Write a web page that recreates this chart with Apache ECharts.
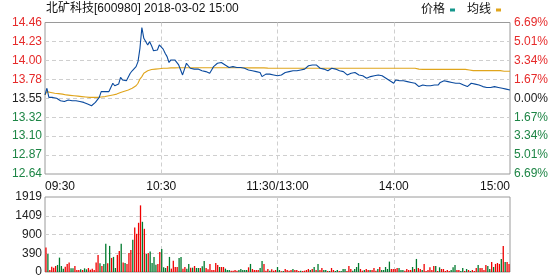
<!DOCTYPE html>
<html><head><meta charset="utf-8">
<script src="https://cdn.jsdelivr.net/npm/echarts@6/dist/echarts.min.js"></script>
<style>html,body{margin:0;padding:0;background:#fff}#c{width:560px;height:280px}</style>
</head><body><div id="c"></div>
<script>
const chartTitle = '北矿科技[600980] 2018-03-02 15:00';
const seriesNames = ['价格', '均线'];
// left price tick labels, bottom -> top
const priceTicks = ['12.64','12.87','13.10','13.32','13.55','13.78','14.00','14.23','14.46'];
// right percent tick labels, bottom -> top
const pctTicks = ['6.69%','5.01%','3.34%','1.67%','0.00%','1.67%','3.34%','5.01%','6.69%'];
const priceMin = 12.64, priceMax = 14.46;
// volume tick labels, bottom -> top
const volTicks = ['0','390','900','1409','1919'];
const volMax = 1919;
// x tick labels by time
const timeTicks = {'09:30':'09:30','10:30':'10:30','11:30':'11:30/13:00','14:00':'14:00','15:00':'15:00'};

const price = [
13.59,13.67,13.56,13.55,13.56,13.54,13.55,13.53,13.52,13.52,
13.51,13.52,13.53,13.53,13.52,13.53,13.52,13.52,13.51,13.51,
13.50,13.49,13.48,13.47,13.46,13.47,13.50,13.53,13.56,13.63,
13.64,13.63,13.62,13.63,13.65,13.73,13.70,13.69,13.72,13.80,
13.77,13.76,13.76,13.78,13.85,13.88,13.89,13.93,13.99,14.15,
14.40,14.27,14.25,14.19,14.23,14.18,14.12,14.10,14.13,14.19,
14.20,14.14,14.09,14.05,13.98,14.01,14.01,14.01,14.00,13.95,
13.89,13.83,13.90,13.97,13.94,13.91,13.90,13.90,13.91,13.90,
13.89,13.88,13.88,13.87,13.86,13.85,13.89,13.93,13.95,13.97,
13.98,13.98,13.97,13.95,13.93,13.92,13.92,13.93,13.92,13.92,
13.93,13.92,13.92,13.91,13.90,13.89,13.89,13.88,13.88,13.87,
13.87,13.86,13.81,13.82,13.84,13.84,13.84,13.84,13.83,13.82,
13.82,13.81,13.83,13.85,13.86,13.86,13.87,13.88,13.88,13.88,
13.88,13.89,13.89,13.89,13.90,13.92,13.94,13.94,13.95,13.95,
13.95,13.93,13.91,13.91,13.90,13.89,13.88,13.89,13.91,13.90,
13.90,13.89,13.88,13.87,13.87,13.86,13.83,13.84,13.85,13.86,
13.86,13.84,13.83,13.82,13.82,13.81,13.79,13.80,13.81,13.81,
13.82,13.83,13.83,13.83,13.82,13.80,13.79,13.78,13.76,13.74,
13.73,13.77,13.76,13.76,13.75,13.76,13.75,13.75,13.74,13.74,
13.74,13.73,13.71,13.69,13.71,13.71,13.70,13.70,13.71,13.70,
13.70,13.71,13.71,13.71,13.74,13.75,13.76,13.76,13.75,13.74,
13.74,13.74,13.73,13.73,13.73,13.72,13.71,13.70,13.69,13.71,
13.73,13.72,13.72,13.72,13.71,13.69,13.69,13.68,13.68,13.68,
13.68,13.68,13.69,13.69,13.68,13.68,13.67,13.67,13.66,13.66,
13.65];

const avgPrice = [
13.59,13.63,13.62,13.62,13.615,13.61,13.61,13.605,13.60,13.60,
13.595,13.59,13.59,13.585,13.58,13.58,13.575,13.575,13.57,13.57,
13.565,13.565,13.56,13.56,13.56,13.56,13.56,13.56,13.56,13.565,
13.57,13.57,13.575,13.58,13.58,13.59,13.595,13.60,13.61,13.62,
13.63,13.635,13.64,13.65,13.66,13.67,13.69,13.70,13.73,13.78,
13.81,13.85,13.87,13.88,13.89,13.895,13.895,13.90,13.90,13.905,
13.905,13.91,13.91,13.91,13.915,13.915,13.915,13.915,13.915,13.916,
13.916,13.916,13.916,13.916,13.916,13.916,13.916,13.916,13.916,13.916,
13.916,13.916,13.916,13.916,13.916,13.916,13.916,13.916,13.916,13.916,
13.916,13.916,13.916,13.916,13.916,13.916,13.916,13.916,13.916,13.916,
13.916,13.916,13.916,13.916,13.916,13.915,13.915,13.915,13.915,13.915,
13.915,13.915,13.915,13.915,13.912,13.912,13.911,13.911,13.91,13.91,
13.91,13.91,13.91,13.91,13.91,13.91,13.91,13.91,13.91,13.91,
13.91,13.91,13.91,13.91,13.91,13.91,13.91,13.91,13.91,13.91,
13.91,13.91,13.91,13.91,13.91,13.91,13.91,13.91,13.91,13.91,
13.91,13.91,13.91,13.91,13.91,13.91,13.91,13.91,13.91,13.91,
13.91,13.91,13.91,13.91,13.91,13.91,13.91,13.91,13.91,13.91,
13.91,13.91,13.91,13.91,13.91,13.91,13.91,13.91,13.91,13.91,
13.91,13.91,13.91,13.91,13.91,13.91,13.91,13.91,13.91,13.91,
13.91,13.91,13.905,13.90,13.898,13.897,13.897,13.897,13.897,13.897,
13.897,13.897,13.897,13.897,13.897,13.897,13.897,13.897,13.897,13.897,
13.897,13.897,13.897,13.897,13.897,13.897,13.897,13.897,13.897,13.89,
13.882,13.882,13.882,13.882,13.882,13.882,13.882,13.882,13.882,13.882,
13.882,13.882,13.882,13.882,13.882,13.882,13.875,13.875,13.874,13.874,
13.874];

const volume = [
625,463,51,137,111,154,180,368,154,86,
137,206,240,94,94,154,51,51,69,51,
94,69,103,60,86,51,240,437,223,154,
206,720,223,668,360,386,103,437,540,720,
240,231,206,488,565,822,1140,977,1259,1705,
1285,1105,463,488,523,231,386,188,206,514,
591,120,103,154,386,86,291,128,128,360,
386,86,128,86,206,111,111,154,103,103,
103,146,283,103,69,206,51,51,231,180,
128,128,128,86,51,51,34,34,51,34,
51,77,51,51,51,120,206,77,51,51,
51,103,283,206,34,77,34,69,34,51,
128,51,20,26,77,51,34,51,77,51,
51,26,30,26,34,51,77,51,77,128,
51,206,51,103,51,51,26,26,103,51,
26,51,26,26,77,77,26,154,77,30,
77,128,231,77,34,51,77,51,51,51,
103,34,77,128,51,51,128,77,266,77,
77,77,103,103,51,51,34,77,51,51,
128,77,334,103,77,51,206,26,51,120,
51,154,154,26,120,77,77,26,51,26,
51,120,180,51,51,26,103,26,77,51,
26,51,26,103,180,103,103,51,180,154,
77,257,128,206,231,206,334,668,257,257,
206];

// 1 = up minute (red), -1 = down minute (green)
const volDir = [
1,-1,1,1,1,1,-1,-1,-1,-1,
1,1,1,-1,-1,1,1,1,-1,1,
-1,-1,1,1,1,1,1,1,-1,1,
-1,-1,1,-1,1,-1,-1,1,1,-1,
1,-1,1,1,1,-1,1,1,1,1,
-1,1,-1,1,-1,-1,-1,-1,1,1,
-1,-1,-1,1,-1,1,1,1,1,-1,
-1,1,1,-1,-1,1,-1,1,-1,-1,
1,-1,-1,1,1,1,1,1,1,1,
-1,1,1,-1,-1,-1,1,1,1,1,
-1,-1,-1,-1,-1,1,-1,1,1,1,
1,-1,-1,1,1,1,-1,1,1,1,
-1,-1,1,-1,1,1,1,1,-1,1,
1,1,-1,1,1,1,1,-1,1,-1,
1,-1,1,1,-1,-1,1,-1,1,1,
-1,-1,1,-1,-1,-1,1,1,1,-1,
-1,-1,-1,1,1,-1,1,1,-1,1,
1,1,-1,1,-1,-1,-1,-1,-1,1,
1,1,1,-1,-1,-1,1,1,1,1,
-1,1,-1,1,1,-1,1,1,1,1,
1,1,-1,1,-1,1,1,1,1,1,
-1,-1,-1,1,1,-1,-1,1,-1,1,
-1,1,1,1,-1,1,1,1,1,-1,
-1,1,-1,1,1,1,-1,1,-1,1,
1];

// minute categories 09:30-11:30, 13:01-15:00
const times = [];
function pad(n){return (n<10?'0':'')+n;}
for (let m = 9*60+30; m <= 11*60+30; m++) times.push(pad(Math.floor(m/60))+':'+pad(m%60));
for (let m = 13*60+1; m <= 15*60; m++) times.push(pad(Math.floor(m/60))+':'+pad(m%60));

const RED = '#e62a2a', GREEN = '#1d8545', BLACK = '#222';
const FONT = '"Liberation Sans", Arial, "Noto Sans CJK SC", sans-serif';
const gridLine = {show:true, lineStyle:{color:'#cfcfcf', type:[4,3], width:1}};
const isHourMark = (i) => i % 60 === 0 && i > 0 && i < 240;

const chart = echarts.init(document.getElementById('c'), null, {renderer:'canvas'});
chart.setOption({
  animation:false,
  backgroundColor:'#fff',
  textStyle:{fontFamily:FONT},
  graphic:[{type:'text', left:46, top:3, silent:true,
    style:{text:chartTitle, font:'12px ' + FONT, fill:'#111'}}],
  legend:{left:421, top:4, padding:0, itemGap:12, itemWidth:5, itemHeight:3, icon:'rect', align:'right',
    selectedMode:false,
    textStyle:{fontSize:12, color:'#111', fontFamily:FONT},
    data:[{name:seriesNames[0], itemStyle:{color:'#14968c'}}, {name:seriesNames[1], itemStyle:{color:'#e0a51c'}}]},
  grid:[
    {left:45, right:50, top:22.5, height:151.5, show:true, borderColor:'#9a9a9a', borderWidth:1, backgroundColor:'transparent'},
    {left:45, right:50, top:197, height:75, show:true, borderColor:'#9a9a9a', borderWidth:1, backgroundColor:'transparent'}
  ],
  xAxis:[
    {type:'category', gridIndex:0, data:times, boundaryGap:false,
      axisLine:{show:false}, axisTick:{show:false},
      axisLabel:{interval:(i)=> i % 60 === 0, formatter:(v)=> timeTicks[v] || '',
        color:'#111', fontSize:12, margin:7, fontFamily:FONT,
        alignMinLabel:'left', alignMaxLabel:'right'},
      splitLine:Object.assign({interval:(i)=>isHourMark(i)}, gridLine)},
    {type:'category', gridIndex:1, data:times, boundaryGap:true,
      axisLine:{show:false}, axisTick:{show:false}, axisLabel:{show:false}, splitLine:{show:false}},
    {type:'category', gridIndex:1, data:times, boundaryGap:false,
      axisLine:{show:false}, axisTick:{show:false}, axisLabel:{show:false},
      splitLine:Object.assign({interval:(i)=>isHourMark(i)}, gridLine)}
  ],
  yAxis:[
    {type:'value', gridIndex:0, min:0, max:8, interval:1, position:'left',
      axisLine:{show:false}, axisTick:{show:false},
      axisLabel:{margin:3, fontSize:12, fontFamily:FONT, formatter:(v)=> priceTicks[Math.round(v)],
        color:(v)=> { const k = Math.round(Number(v)); return k > 4 ? RED : (k < 4 ? GREEN : BLACK); }},
      splitLine:Object.assign({showMinLine:false, showMaxLine:false}, gridLine)},
    {type:'value', gridIndex:0, min:0, max:8, interval:1, position:'right',
      axisLine:{show:false}, axisTick:{show:false},
      axisLabel:{margin:4, fontSize:12, fontFamily:FONT, formatter:(v)=> pctTicks[Math.round(v)],
        color:(v)=> { const k = Math.round(Number(v)); return k > 4 ? RED : (k < 4 ? GREEN : BLACK); }},
      splitLine:{show:false}},
    {type:'value', gridIndex:0, min:priceMin, max:priceMax, show:false, splitLine:{show:false}},
    {type:'value', gridIndex:1, min:0, max:volMax, interval:volMax/4, position:'left',
      axisLine:{show:false}, axisTick:{show:false},
      axisLabel:{margin:3, fontSize:12, fontFamily:FONT, color:'#222', formatter:(v, i)=> volTicks[i]},
      splitLine:Object.assign({showMinLine:false, showMaxLine:false}, gridLine)}
  ],
  series:[
    {name:seriesNames[0], type:'line', xAxisIndex:0, yAxisIndex:2, data:price, symbol:'none',
      lineStyle:{color:'#0a4a9e', width:1.1}, itemStyle:{color:'#0a4a9e'}, z:4},
    {name:seriesNames[1], type:'line', xAxisIndex:0, yAxisIndex:2, data:avgPrice, symbol:'none',
      lineStyle:{color:'#e0a51c', width:1.1}, itemStyle:{color:'#e0a51c'}, z:3},
    {name:'成交量', type:'bar', xAxisIndex:1, yAxisIndex:3, data:volume, barWidth:1.3,
      itemStyle:{color:(p)=> volDir[p.dataIndex] > 0 ? '#f00000' : '#007a2e'}}
  ]
});
</script></body></html>
